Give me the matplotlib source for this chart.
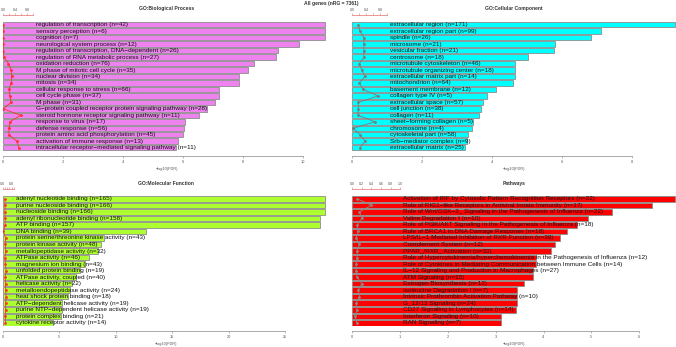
import matplotlib.pyplot as plt

plt.rcParams['font.family'] = ['Liberation Sans', 'DejaVu Sans']

W, H = 676, 347

bp_terms = ["regulation of transcription", "sensory perception", "cognition",
            "neurological system process", "regulation of transcription, DNA\u2212dependent",
            "regulation of RNA metabolic process", "oxidation reduction",
            "M phase of mitotic cell cycle", "nuclear division", "mitosis",
            "cellular response to stress", "cell cycle phase", "M phase",
            "G\u2212protein coupled receptor protein signaling pathway",
            "steroid hormone receptor signaling pathway", "response to virus",
            "defense response", "protein amino acid phosphorylation",
            "activation of immune response", "intracellular receptor\u2212mediated signaling pathway"]
bp_counts = [42, 6, 7, 12, 26, 27, 76, 35, 34, 34, 66, 37, 31, 28, 11, 17, 56, 45, 13, 11]
bp_fdr = [10.74, 10.74, 10.74, 9.88, 9.18, 9.11, 8.38, 8.18, 7.87, 7.87,
          7.19, 7.19, 7.08, 6.81, 6.54, 6.08, 6.04, 6.0, 5.83, 5.78]
bp_ratio = [0.01, 0.0, 0.0, 0.01, 0.01, 0.03, 0.18, 0.27, 0.29, 0.27,
            0.2, 0.23, 0.27, 0.01, 0.59, 0.23, 0.2, 0.2, 0.46, 0.53]

cc_terms = ["extracellular region", "extracellular region part", "spindle", "microsome",
            "vesicular fraction", "centrosome", "microtubule cytoskeleton",
            "microtubule organizing center", "extracellular matrix part", "mitochondrion",
            "basement membrane", "collagen type IV", "extracellular space", "cell junction",
            "collagen", "sheet\u2212forming collagen", "chromosome", "cytoskeletal part",
            "Srb\u2212mediator complex", "extracellular matrix"]
cc_counts = [171, 99, 26, 21, 21, 18, 46, 18, 14, 64, 12, 5, 57, 38, 11, 5, 4, 58, 9, 25]
cc_fdr = [9.22, 7.11, 6.83, 5.78, 5.75, 5.03, 4.66, 4.66, 4.64, 4.6,
          4.11, 3.84, 3.74, 3.69, 3.63, 3.46, 3.42, 3.3, 3.27, 3.23]
cc_ratio = [0.17, 0.22, 0.33, 0.33, 0.33, 0.33, 0.2, 0.27, 0.36, 0.2,
            0.31, 0.74, 0.17, 0.17, 0.17, 0.65, 0.03, 0.22, 0.36, 0.22]

mf_terms = ["adenyl nucleotide binding", "purine nucleoside binding", "nucleoside binding",
            "adenyl ribonucleotide binding", "ATP binding", "DNA binding",
            "protein serine/threonine kinase activity", "protein kinase activity",
            "metallopeptidase activity", "ATPase activity", "magnesium ion binding",
            "unfolded protein binding", "ATPase activity, coupled", "helicase activity",
            "metalloendopeptidase activity", "heat shock protein binding",
            "ATP\u2212dependent helicase activity", "purine NTP\u2212dependent helicase activity",
            "protein complex binding", "cytokine receptor activity"]
mf_counts = [165, 166, 166, 158, 157, 39, 43, 48, 32, 46, 43, 19, 40, 22, 24, 18, 19, 19, 21, 14]
mf_fdr = [28.5, 28.5, 28.5, 28.06, 28.06, 12.7, 8.97, 8.74, 8.47, 7.65,
          7.26, 6.82, 6.53, 6.09, 5.94, 5.79, 5.24, 5.24, 5.12, 4.47]
mf_ratio = [0.2, 0.2, 0.2, 0.21, 0.21, 0.06, 0.25, 0.22, 0.27, 0.2,
            0.24, 0.3, 0.22, 0.25, 0.27, 0.3, 0.26, 0.26, 0.22, 0.24]

pw_terms = ["Activation of IRF by Cytosolic Pattern Recognition Receptors",
            "Role of RIG1\u2212like Receptors in Antiviral Innate Immunity",
            "Role of Wnt/GSK\u22123_ Signaling in the Pathogenesis of Influenza",
            "Valine Degradation I",
            "Role of PI3K/AKT Signaling in the Pathogenesis of Influenza",
            "Role of BRCA1 in DNA Damage Response",
            "LPS/IL\u22121 Mediated Inhibition of RXR Function",
            "Complement System", "PPAR_/RXR_ Activation",
            "Role of Hypercytokinemia/hyperchemokinemia in the Pathogenesis of Influenza",
            "Role of Cytokines in Mediating Communication between Immune Cells",
            "IL\u221212 Signaling and Production in Macrophages", "ATM Signaling",
            "Estrogen Biosynthesis", "Isoleucine Degradation I",
            "Intrinsic Prothrombin Activation Pathway", "G_12/13 Signaling",
            "CD27 Signaling in Lymphocytes", "Interferon Signaling", "RAN Signaling"]
pw_counts = [22, 17, 22, 10, 18, 18, 39, 12, 33, 12, 14, 27, 15, 12, 7, 10, 24, 14, 10, 7]
pw_fdr = [6.75, 6.26, 5.43, 4.94, 4.70, 4.49, 4.34, 4.25, 4.15, 3.85,
          3.85, 3.78, 3.78, 3.60, 3.44, 3.44, 3.44, 3.42, 3.11, 3.11]
pw_ratio = [0.1, 0.4, 0.15, 0.2, 0.1, 0.12, 0.08, 0.15, 0.1, 0.1,
            0.08, 0.08, 0.1, 0.2, 0.12, 0.15, 0.08, 0.1, 0.05, 0.1]

fig = plt.figure(figsize=(W / 100, H / 100), dpi=100)
fig.text(0.49, 1 - 4 / H, "All genes (nRG = 7361)", ha='center', va='center',
         fontsize=3.6, fontweight='bold', color='#333333')

TICK_C = '#555555'


def panel(box, terms, counts, fdr, ratio, color, line_color, xmax, xticks, rlabels, title, title_y):
    l, t, w, h = box
    ax = fig.add_axes([l / W, 1 - (t + h) / H, w / W, h / H])
    y = list(range(len(terms)))
    ax.barh(y, fdr, height=0.85, color=color, edgecolor='#8c8c8c', linewidth=0.6, zorder=1)
    ax.plot(ratio, y, color=line_color, lw=0.6, marker='o', ms=1.0, zorder=2)
    for i, (term, n) in enumerate(zip(terms, counts)):
        ax.annotate(f"{term} (n={n})", (1, i), xytext=(2.5, 0), textcoords='offset pixels',
                    ha='left', va='center', fontsize=4.6, color='#111111', zorder=3)
    ax.set_ylim(len(terms) - 0.5, -0.5)
    ax.set_xlim(0, xmax)
    ax.set_yticks([])
    for s in ['left', 'right', 'top']:
        ax.spines[s].set_visible(False)
    ax.spines['bottom'].set_bounds(0, xticks[-1])
    ax.spines['bottom'].set_position(('outward', 3.5))
    ax.spines['bottom'].set_color('#888888')
    ax.spines['bottom'].set_linewidth(0.5)
    ax.set_xticks(xticks)
    ax.tick_params(axis='x', labelsize=2.8, labelcolor=TICK_C, length=1.5, width=0.4,
                   color='#888888', pad=1.5)
    ax.set_xlabel("\u2212log10(FDR)", fontsize=2.8, color=TICK_C, labelpad=2)
    fig.text((l + w / 2) / W, 1 - title_y / H, title, ha='center', va='center',
             fontsize=3.6, fontweight='bold', color='#333333')

    top = ax.twiny()
    top.set_xlim(0, xmax)
    for s in ['left', 'right', 'bottom']:
        top.spines[s].set_visible(False)
    top.spines['top'].set_bounds(0, 1)
    top.spines['top'].set_position(('outward', 4.5))
    top.spines['top'].set_color('#e07070')
    top.spines['top'].set_linewidth(0.5)
    top.set_xticks([0, 0.2, 0.4, 0.6, 0.8, 1.0])
    top.set_xticklabels(rlabels)
    top.tick_params(axis='x', labelsize=2.6, labelcolor=TICK_C, length=1.5, width=0.4,
                    color='#e07070', pad=1)
    top.set_yticks([])
    return ax


panel((3, 21.5, 327, 129.4), bp_terms, bp_counts, bp_fdr, bp_ratio, '#EE82EE', '#ff3030',
      327 / 30, [0, 2, 4, 6, 8, 10], ['0.0', '', '0.4', '', '0.8', ''],
      "GO:Biological Process", 8.5)
panel((352.3, 21.5, 323.7, 129.4), cc_terms, cc_counts, cc_fdr, cc_ratio, '#00FFFF', '#7a7a7a',
      323.7 / 35, [0, 2, 4, 6, 8], ['0.0', '', '0.4', '', '0.8', ''],
      "GO:Cellular Component", 8.5)
panel((2.7, 195.5, 327.3, 130.6), mf_terms, mf_counts, mf_fdr, mf_ratio, '#ADFF2F', '#ff3030',
      327.3 / 11.3, [0, 5, 10, 15, 20, 25], ['0.0', '', '', '', '0.8', ''],
      "GO:Molecular Function", 183.5)
panel((352.3, 195.5, 323.7, 130.6), pw_terms, pw_counts, pw_fdr, pw_ratio, '#FF0000', '#8a8a8a',
      323.7 / 47.8, [0, 1, 2, 3, 4, 5, 6], ['0.0', '0.2', '0.4', '0.6', '0.8', '1.0'],
      "Pathways", 183.5)

fig.savefig("out.png", dpi=100)
